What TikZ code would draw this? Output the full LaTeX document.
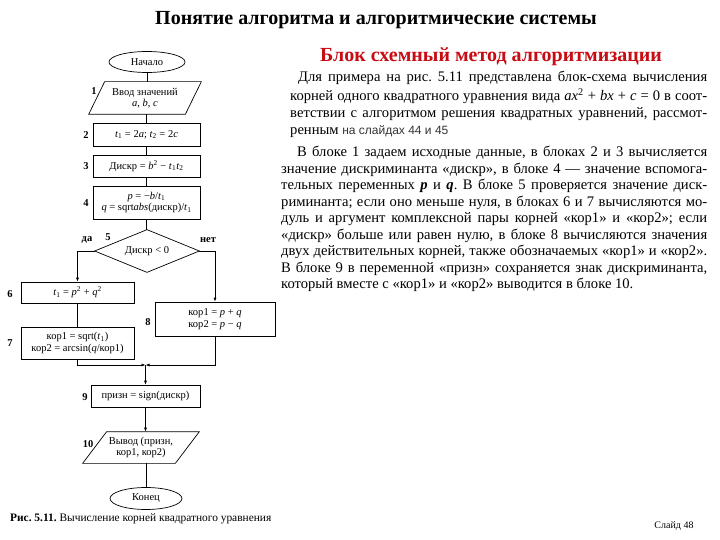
\documentclass[tikz,border=0pt]{standalone}
\usepackage{fontspec}
\setmainfont{Liberation Serif}
\newfontfamily\sansf{Liberation Sans}
\newfontfamily\scanf{Liberation Serif}
\usetikzlibrary{arrows.meta,shapes.geometric}
\definecolor{titlered}{RGB}{200,12,20}
\newcommand\vi[1]{\textit{#1}}
\newcommand\ptext{\scanf\fontsize{14.6}{17}\selectfont}
\frenchspacing
\begin{document}
\begin{tikzpicture}[x=1pt,y=-1pt,
  fc/.style={font=\scanf\fontsize{10.5}{11.5}\selectfont, align=center, inner sep=0pt, line width=0.7pt},
  blk/.style={fc, draw, rectangle},
  term/.style={fc, draw, ellipse},
  lbl/.style={font=\fontsize{10.5}{12}\selectfont\bfseries, inner sep=0pt},
  conn/.style={line width=0.7pt},
  arr/.style={conn, -{Latex[length=4pt,width=3pt]}},
  pline/.style={anchor=west, inner sep=0pt, font=\ptext}]
\useasboundingbox[fill=white] (0,0) rectangle (720,540);

% titles
\node[inner sep=0pt] (title) at (376,20) {\fontsize{20}{24}\selectfont\bfseries Понятие алгоритма и алгоритмические системы};
\node[inner sep=0pt, text=titlered] (sub) at (491,57) {\fontsize{20}{24}\selectfont\bfseries Блок схемный метод алгоритмизации};

% paragraph 1
\node[pline] (a1) at (298,78) {\makebox[409pt][s]{Для примера на рис. 5.11 представлена блок-схема вычисления}};
\node[pline] (a2) at (290,96) {\makebox[417pt][s]{корней одного квадратного уравнения вида \vi{ax}\textsuperscript{2} + \vi{bx} + \vi{c} = 0 в соот-}};
\node[pline] (a3) at (290,114) {\makebox[417pt][s]{ветствии с алгоритмом решения квадратных уравнений, рассмот-}};
\node[pline] (a4) at (290,132) {ренным {\sansf\fontsize{12}{14}\selectfont\color{black!80} на слайдах 44 и 45}};

% paragraph 2
\node[pline] (b1t) at (297,153) {\makebox[410pt][s]{В блоке 1 задаем исходные данные, в блоках 2 и 3 вычисляется}};
\node[pline] (b2t) at (281,169.5) {\makebox[426pt][s]{значение дискриминанта «дискр», в блоке 4 — значение вспомога-}};
\node[pline] (b3t) at (281,186) {\makebox[426pt][s]{тельных переменных \textbf{\textit{p}} и \textbf{\textit{q}}. В блоке 5 проверяется значение диск-}};
\node[pline] (b4t) at (281,202.5) {\makebox[426pt][s]{риминанта; если оно меньше нуля, в блоках 6 и 7 вычисляются мо-}};
\node[pline] (b5t) at (281,219) {\makebox[426pt][s]{дуль и аргумент комплексной пары корней «кор1» и «кор2»; если}};
\node[pline] (b6t) at (281,235.5) {\makebox[426pt][s]{«дискр» больше или равен нулю, в блоке 8 вычисляются значения}};
\node[pline] (b7t) at (281,252) {\makebox[426pt][s]{двух действительных корней, также обозначаемых «кор1» и «кор2».}};
\node[pline] (b8t) at (281,268.5) {\makebox[426pt][s]{В блоке 9 в переменной «призн» сохраняется знак дискриминанта,}};
\node[pline] (b9t) at (281,285) {который вместе с «кор1» и «кор2» выводится в блоке 10.};

% flowchart nodes
\node[term, minimum width=76pt, minimum height=21pt] (st) at (147,62) {Начало};
\node[fc, minimum width=96pt, minimum height=32pt] (n1) at (145,98) {Ввод значений\\ \vi{a}, \vi{b}, \vi{c}};
\draw[conn] ([xshift=8pt]n1.north west) -- ([xshift=8pt]n1.north east) -- ([xshift=-8pt]n1.south east) -- ([xshift=-8pt]n1.south west) -- cycle;
\node[blk, minimum width=107pt, minimum height=23pt] (n2) at (146.5,134.5) {\vi{t}\textsubscript{1} = 2\vi{a}; \vi{t}\textsubscript{2} = 2\vi{c}};
\node[blk, minimum width=107pt, minimum height=22pt] (n3) at (146.5,166) {Дискр = \vi{b}\textsuperscript{2} − \vi{t}\textsubscript{1}\vi{t}\textsubscript{2}};
\node[blk, minimum width=107pt, minimum height=33pt] (n4) at (146.5,202.5) {\vi{p} = −\vi{b}/\vi{t}\textsubscript{1}\\ \vi{q} = sqrt\vi{abs}(дискр)/\vi{t}\textsubscript{1}};
\node[fc, minimum width=104pt, minimum height=42pt] (n5) at (147,251) {Дискр < 0};
\draw[conn] (n5.north) -- (n5.east) -- (n5.south) -- (n5.west) -- cycle;
\node[blk, minimum width=113pt, minimum height=21pt] (n6) at (77.5,292.5) {\vi{t}\textsubscript{1} = \vi{p}\textsuperscript{2} + \vi{q}\textsuperscript{2}};
\node[blk, minimum width=113pt, minimum height=32pt] (n7) at (77.5,343) {кор1 = sqrt(\vi{t}\textsubscript{1})\\ кор2 = arcsin(\vi{q}/кор1)};
\node[blk, minimum width=120pt, minimum height=34pt] (n8) at (215,319) {кор1 = \vi{p} + \vi{q}\\ кор2 = \vi{p} − \vi{q}};
\coordinate (m) at (145.5,365);
\node[blk, minimum width=109pt, minimum height=22pt] (n9) at (145.5,396) {призн = sign(дискр)};
\node[fc, minimum width=92pt, minimum height=31pt] (n10) at (141,447.5) {Вывод (призн,\\ кор1, кор2)};
\draw[conn] ([xshift=12pt]n10.north west) -- ([xshift=12pt]n10.north east) -- ([xshift=-12pt]n10.south east) -- ([xshift=-12pt]n10.south west) -- cycle;
\node[term, minimum width=72pt, minimum height=22pt] (en) at (146,498.5) {Конец};

% block labels
\node[lbl] (l1) at (94,91) {1};
\node[lbl] (l2) at (86,135) {2};
\node[lbl] (l3) at (86,166) {3};
\node[lbl] (l4) at (86,203) {4};
\node[lbl] (l5) at (108,237) {5};
\node[lbl] (lda) at (87,240) {да};
\node[lbl] (lnet) at (208,240) {нет};
\node[lbl] (l6) at (10,294) {6};
\node[lbl] (l7) at (10,343) {7};
\node[lbl] (l8) at (148,322) {8};
\node[lbl] (l9) at (85,397) {9};
\node[lbl] (l10) at (88,444) {10};

% connectors
\draw[conn] (st.south) -- (st.south |- n1.north);
\draw[conn] (n2.north |- n1.south) -- (n2.north);
\draw[conn] (n2.south) -- (n3.north);
\draw[conn] (n3.south) -- (n4.north);
\draw[conn] (n4.south) -- (n4.south |- n5.north);
\draw[arr] (n5.west) -| (n6.north);
\draw[arr] (n5.east) -| (n8.north);
\draw[conn] (n6.south) -- (n7.north);
\draw[arr] (n7.south) |- (m);
\draw[arr] (n8.south) |- (m);
\draw[arr] (m) -- (n9.north);
\draw[arr] (n9.south) -- (n9.south |- n10.north);
\draw[conn] (en.north |- n10.south) -- (en.north);

% caption and slide number
\node[anchor=west, inner sep=0pt] (cap) at (10,519) {\scanf\fontsize{11.4}{13}\selectfont\textbf{Рис. 5.11.} Вычисление корней квадратного уравнения};
\node[inner sep=0pt] (sl) at (674,526) {\fontsize{10}{12}\selectfont Слайд 48};
\end{tikzpicture}
\end{document}
